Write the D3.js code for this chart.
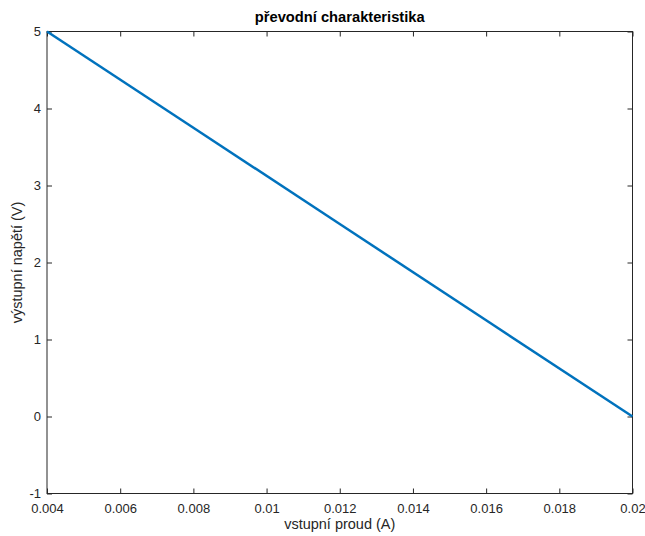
<!DOCTYPE html>
<html>
<head>
<meta charset="utf-8">
<script src="https://cdnjs.cloudflare.com/ajax/libs/d3/7.8.5/d3.min.js"></script>
<style>
  body, html { margin: 0; padding: 0; background: #fff; }
  svg { display: block; font-family: "Liberation Sans", Arial, sans-serif; }
  .tick text { fill: #262626; font-size: 13px; }
  .tick line { stroke: #262626; }
</style>
</head>
<body>
<svg id="chart" width="645" height="536"></svg>
<script>
var title = 'převodní charakteristika';
var xLabel = 'vstupní proud (A)';
var yLabel = 'výstupní napětí (V)';

// vstupni proud (A) a vystupni napeti (V)
var current = [0.004, 0.008, 0.012, 0.016, 0.02];
var voltage = [5, 3.75, 2.5, 1.25, 0];

var xTicks = [0.004, 0.006, 0.008, 0.01, 0.012, 0.014, 0.016, 0.018, 0.02];
var yTicks = [-1, 0, 1, 2, 3, 4, 5];

var margin = {top: 31.5, right: 12.5, bottom: 42.5, left: 47};
var width = 645 - margin.left - margin.right;
var height = 536 - margin.top - margin.bottom;

var svg = d3.select('#chart');
var g = svg.append('g').attr('transform', 'translate(' + margin.left + ',' + margin.top + ')');

var x = d3.scaleLinear().domain([0.004, 0.02]).range([0, width]);
var y = d3.scaleLinear().domain([-1, 5]).range([height, 0]);

var fmt = function (d) { return String(+d.toFixed(4)); };

// dolni a leva osa
g.append('g')
    .attr('transform', 'translate(0,' + height + ')')
    .call(d3.axisBottom(x).tickValues(xTicks).tickFormat(fmt).tickSizeInner(-5).tickSizeOuter(0).tickPadding(10))
    .call(function (a) { a.select('.domain').remove(); });

g.append('g')
    .call(d3.axisLeft(y).tickValues(yTicks).tickFormat(fmt).tickSizeInner(-5).tickSizeOuter(0).tickPadding(6))
    .call(function (a) { a.select('.domain').remove(); });

// horni a prava osa (jen carky)
g.append('g')
    .call(d3.axisTop(x).tickValues(xTicks).tickFormat('').tickSizeInner(-5).tickSizeOuter(0))
    .call(function (a) { a.select('.domain').remove(); });

g.append('g')
    .attr('transform', 'translate(' + width + ',0)')
    .call(d3.axisRight(y).tickValues(yTicks).tickFormat('').tickSizeInner(-5).tickSizeOuter(0))
    .call(function (a) { a.select('.domain').remove(); });

g.append('rect')
    .attr('width', width)
    .attr('height', height)
    .attr('fill', 'none')
    .attr('stroke', '#262626')
    .attr('stroke-width', 1);

var line = d3.line()
    .x(function (d) { return x(d[0]); })
    .y(function (d) { return y(d[1]); });

g.append('path')
    .datum(d3.zip(current, voltage))
    .attr('d', line)
    .attr('fill', 'none')
    .attr('stroke', '#0072BD')
    .attr('stroke-width', 2.5);

svg.append('text')
    .attr('x', margin.left + width / 2)
    .attr('y', 22)
    .attr('text-anchor', 'middle')
    .attr('font-weight', 'bold')
    .attr('font-size', 14.7)
    .attr('fill', '#000')
    .text(title);

svg.append('text')
    .attr('x', margin.left + width / 2)
    .attr('y', 529)
    .attr('text-anchor', 'middle')
    .attr('font-size', 14.5)
    .attr('fill', '#262626')
    .text(xLabel);

svg.append('text')
    .attr('transform', 'translate(22,' + (margin.top + height / 2) + ') rotate(-90)')
    .attr('text-anchor', 'middle')
    .attr('font-size', 14.5)
    .attr('fill', '#262626')
    .text(yLabel);
</script>
</body>
</html>
